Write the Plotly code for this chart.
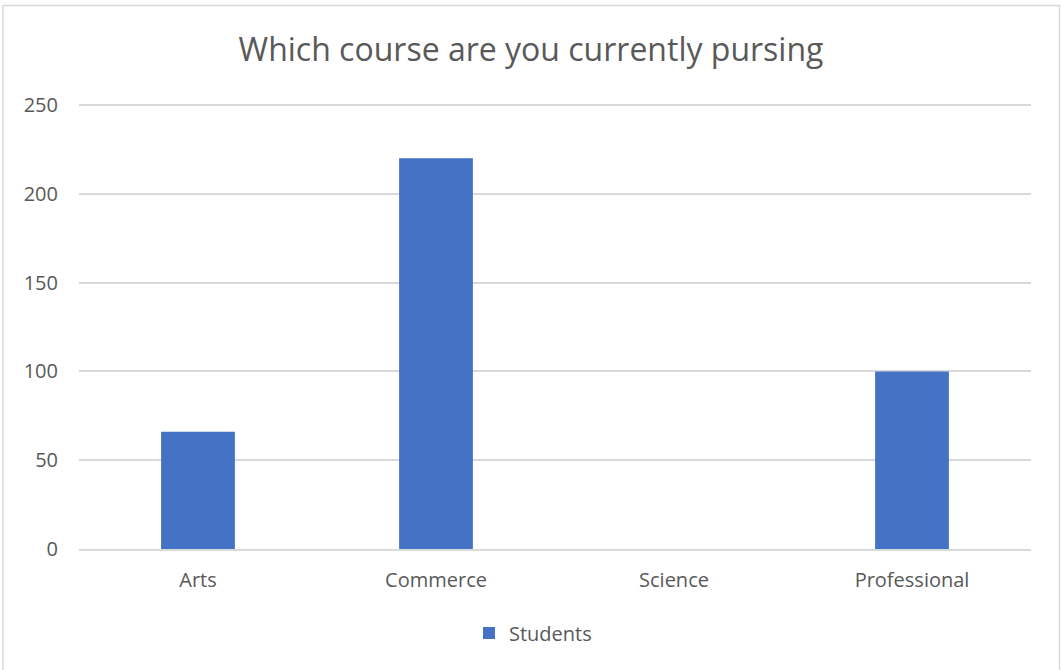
import plotly.graph_objects as go

categories = ["Arts", "Commerce", "Science", "Professional"]
students = [66, 220, 0, 100]
y_ticks = [0, 50, 100, 150, 200, 250]

W, H = 1061, 670
L, R, T, B = 79, 30, 104, 121
pw, ph = W - L - R, H - T - B

def px_x(p):
    return (p - L) / pw

def px_y(p):
    return (H - B - p) / ph

fig = go.Figure()
fig.add_trace(go.Bar(
    x=categories, y=students, name="Students",
    marker=dict(color="#4472C4", line=dict(width=0)),
    showlegend=True,
))

font_family = "Open Sans, Liberation Sans, sans-serif"
grey = "#595959"

fig.update_layout(
    width=W, height=H,
    margin=dict(l=L, r=R, t=T, b=B, autoexpand=False),
    paper_bgcolor="white", plot_bgcolor="white",
    bargap=0.69,
    title=dict(text="Which course are you currently pursing",
               x=531 / W, xref="container", xanchor="center",
               y=1 - 50 / H, yref="container", yanchor="middle",
               font=dict(family=font_family, size=32, color=grey)),
    font=dict(family=font_family, size=20, color=grey),
    showlegend=True,
    legend=dict(orientation="h", x=px_x(533), xanchor="center",
                y=px_y(633), yanchor="middle",
                font=dict(size=20, color=grey),
                itemwidth=30, traceorder="normal"),
    shapes=[dict(type="rect", xref="paper", yref="paper",
                 x0=px_x(3), x1=px_x(1059.5), y0=px_y(700), y1=px_y(5.5),
                 line=dict(color="#D9D9D9", width=1.5), fillcolor="rgba(0,0,0,0)",
                 layer="below")],
)

fig.update_xaxes(
    showgrid=False, showline=True, linecolor="#D9D9D9", linewidth=1.5,
    ticks="", tickfont=dict(size=20, color=grey), ticklabelstandoff=12,
)
fig.update_yaxes(
    range=[0, 250.6], tickvals=y_ticks, showgrid=True, gridcolor="#D9D9D9",
    gridwidth=1.5, zeroline=False, showline=False, ticks="",
    tickfont=dict(size=20, color=grey), ticklabelstandoff=20,
)

fig.write_html("out.html", config={"displayModeBar": False},
               post_script="document.body.style.margin='0';document.body.style.overflow='hidden';")
